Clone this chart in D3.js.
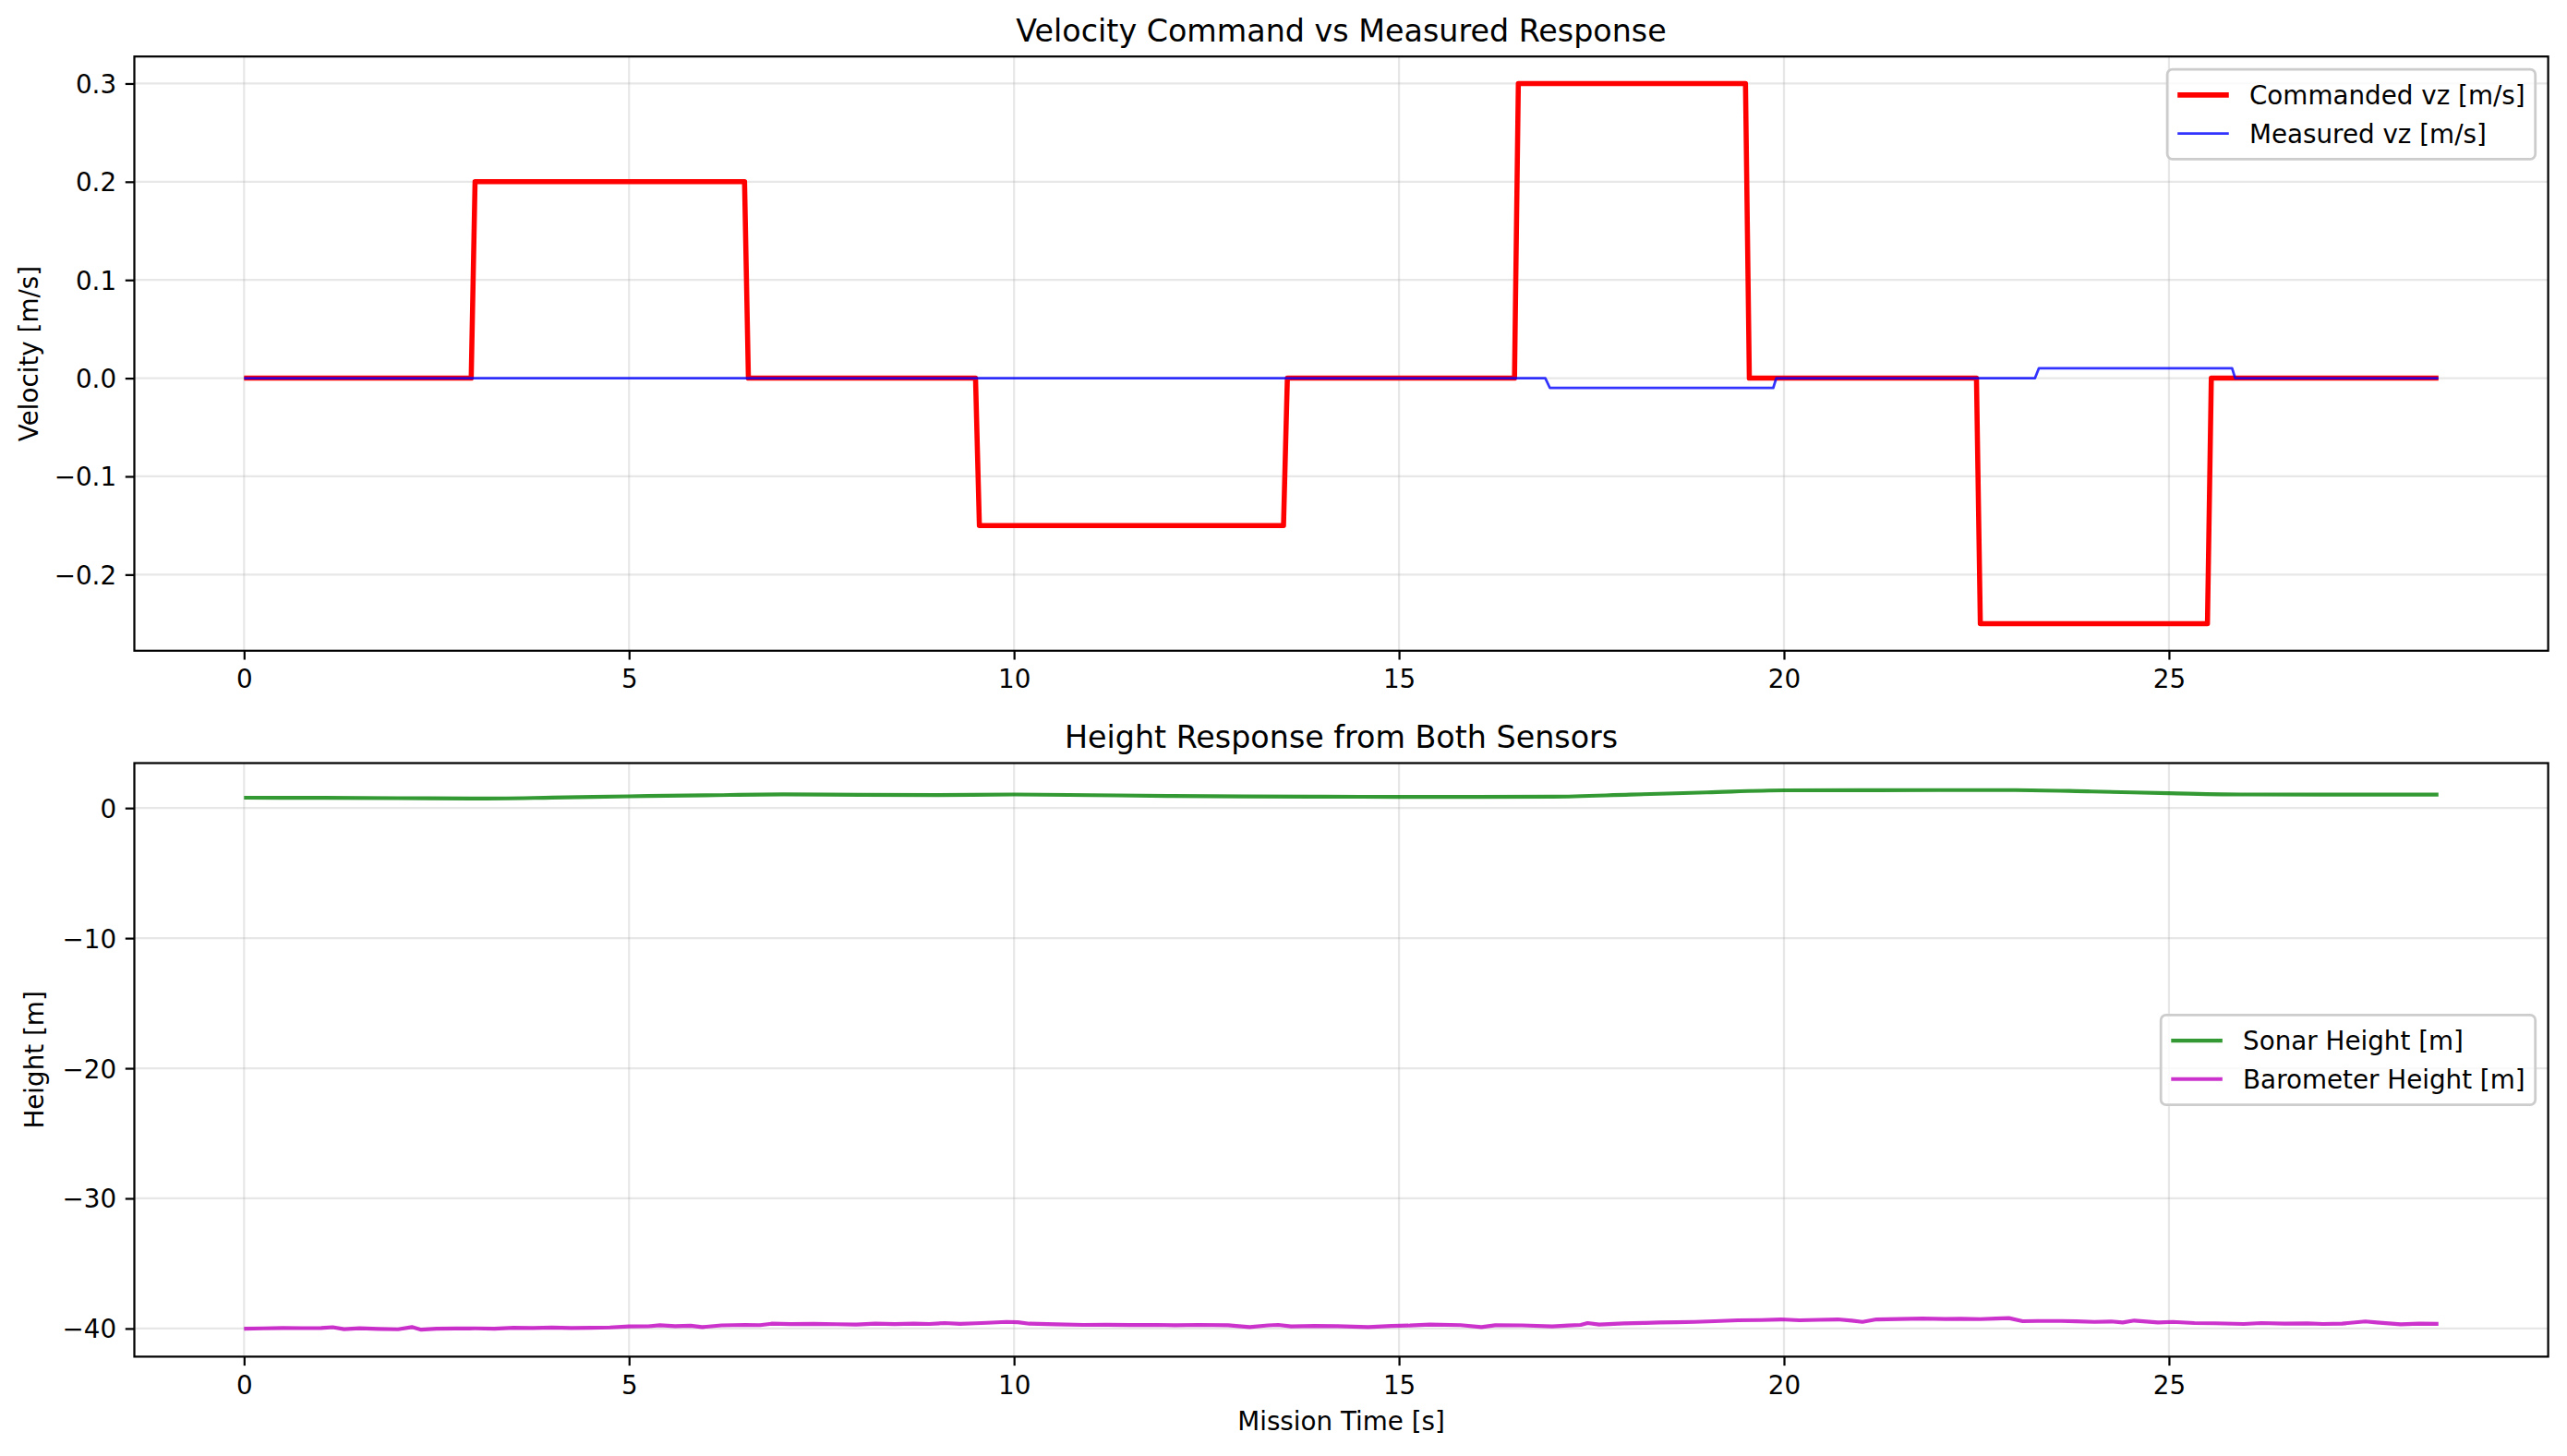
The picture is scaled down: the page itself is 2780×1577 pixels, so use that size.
<!DOCTYPE html>
<html>
<head>
<meta charset="utf-8">
<script src="https://cdn.jsdelivr.net/npm/d3@7"></script>
<style>
  html, body { margin: 0; padding: 0; background: #fff; }
  svg { display: block; font-family: "DejaVu Sans", sans-serif; }
</style>
</head>
<body>
<svg id="chart" width="2780" height="1577"></svg>
<script>
// ---------------- DATA ----------------
const cmdTimes  = [0, 2.95, 3.0, 6.5, 6.55, 9.5, 9.55, 13.5, 13.55, 16.5, 16.55, 19.5, 19.55, 22.5, 22.55, 25.5, 25.55, 28.5];
const cmdValues = [0, 0, 0.2, 0.2, 0, 0, -0.15, -0.15, 0, 0, 0.3, 0.3, 0, 0, -0.25, -0.25, 0, 0];

const measTimes  = [0, 16.9, 16.96, 19.86, 19.9, 23.26, 23.31, 25.82, 25.86, 28.5];
const measValues = [0, 0, -0.01, -0.01, 0, 0, 0.01, 0.01, 0, 0];

const sonarTimes  = [0, 1, 2, 3, 4, 5, 6, 7, 8, 9, 10, 11, 12, 13, 14, 15, 16, 17, 18, 19, 20, 21, 22, 23, 24, 25, 26, 27, 28, 28.5];
const sonarValues = [0.79, 0.78, 0.76, 0.73, 0.80, 0.90, 0.98, 1.05, 1.01, 1.00, 1.04, 0.99, 0.93, 0.89, 0.87, 0.86, 0.85, 0.87, 1.03, 1.20, 1.36, 1.37, 1.38, 1.38, 1.27, 1.14, 1.04, 1.03, 1.03, 1.03];

const baroTimes = [0.00, 0.25, 0.50, 0.75, 1.00, 1.15, 1.30, 1.50, 1.75, 2.00, 2.18, 2.30, 2.50, 2.75, 3.00, 3.25, 3.50, 3.75, 4.00, 4.25, 4.50, 4.75, 5.00, 5.25, 5.40, 5.60, 5.80, 5.95, 6.20, 6.50, 6.70, 6.85, 7.10, 7.40, 7.70, 7.95, 8.20, 8.45, 8.70, 8.90, 9.10, 9.30, 9.50, 9.65, 9.90, 10.05, 10.20, 10.55, 10.90, 11.20, 11.50, 11.85, 12.10, 12.40, 12.78, 13.06, 13.30, 13.43, 13.60, 13.90, 14.20, 14.60, 14.90, 15.14, 15.40, 15.80, 16.07, 16.25, 16.60, 16.99, 17.20, 17.36, 17.45, 17.60, 17.92, 18.20, 18.38, 18.60, 18.84, 19.10, 19.40, 19.70, 19.96, 20.20, 20.45, 20.70, 20.88, 21.02, 21.20, 21.50, 21.80, 22.10, 22.30, 22.55, 22.75, 22.92, 23.10, 23.30, 23.60, 23.80, 24.03, 24.25, 24.40, 24.55, 24.86, 25.05, 25.33, 25.60, 25.97, 26.20, 26.50, 26.80, 27.00, 27.25, 27.55, 27.70, 28.01, 28.25, 28.50];
const baroValues = [-40.01, -39.99, -39.96, -39.97, -39.96, -39.90, -40.05, -39.98, -40.03, -40.06, -39.89, -40.09, -40.02, -40.00, -39.99, -40.01, -39.95, -39.96, -39.93, -39.96, -39.94, -39.92, -39.84, -39.83, -39.75, -39.82, -39.78, -39.89, -39.76, -39.72, -39.74, -39.63, -39.66, -39.64, -39.67, -39.70, -39.63, -39.66, -39.62, -39.65, -39.58, -39.64, -39.60, -39.56, -39.49, -39.52, -39.63, -39.68, -39.72, -39.71, -39.73, -39.72, -39.75, -39.72, -39.75, -39.89, -39.76, -39.72, -39.84, -39.80, -39.82, -39.89, -39.80, -39.77, -39.70, -39.74, -39.89, -39.75, -39.76, -39.84, -39.77, -39.72, -39.58, -39.70, -39.61, -39.57, -39.54, -39.52, -39.49, -39.44, -39.37, -39.35, -39.30, -39.37, -39.33, -39.30, -39.39, -39.49, -39.30, -39.27, -39.23, -39.27, -39.25, -39.28, -39.24, -39.20, -39.44, -39.42, -39.42, -39.45, -39.49, -39.46, -39.54, -39.39, -39.54, -39.49, -39.58, -39.60, -39.65, -39.58, -39.63, -39.61, -39.65, -39.62, -39.46, -39.54, -39.68, -39.63, -39.64];

const xTicks = [0, 5, 10, 15, 20, 25];
const velTicks = [-0.2, -0.1, 0.0, 0.1, 0.2, 0.3];
const heightTicks = [-40, -30, -20, -10, 0];

const titleTop = "Velocity Command vs Measured Response";
const titleBottom = "Height Response from Both Sensors";
const yLabelTop = "Velocity [m/s]";
const yLabelBottom = "Height [m]";
const xLabel = "Mission Time [s]";
const legendTop = ["Commanded vz [m/s]", "Measured vz [m/s]"];
const legendBottom = ["Sonar Height [m]", "Barometer Height [m]"];

// ---------------- LAYOUT ----------------
const PT = 200 / 72;
const FS = 10 * PT;           // tick / label / legend font
const TFS = 12 * PT;          // title font
const left = 145.5, right = 2759.6;
const topBox = { top: 61.2, bottom: 704.8 };
const botBox = { top: 826.5, bottom: 1469.4 };
const gridColor = "#b0b0b0";

const svg = d3.select("#chart");

function withMargin(lo, hi) { const m = (hi - lo) * 0.05; return [lo - m, hi + m]; }

const allT = cmdTimes.concat(measTimes, sonarTimes, baroTimes);
const x = d3.scaleLinear().domain(withMargin(d3.min(allT), d3.max(allT))).range([left, right]);

const velAll = cmdValues.concat(measValues);
const yTop = d3.scaleLinear().domain(withMargin(d3.min(velAll), d3.max(velAll))).range([topBox.bottom, topBox.top]);
const hAll = sonarValues.concat(baroValues);
const yBot = d3.scaleLinear().domain(withMargin(d3.min(hAll), d3.max(hAll))).range([botBox.bottom, botBox.top]);

const fmtVel = d3.format(".1f");
const fmtH = d3.format("d");

function drawPanel(box, y, yTicks, yFmt, title, ylabel, ylabelX, series, legendLabels, legendPos) {
  const g = svg.append("g");
  const clipId = "clip" + Math.round(box.top);
  svg.append("clipPath").attr("id", clipId).append("rect")
    .attr("x", left).attr("y", box.top).attr("width", right - left).attr("height", box.bottom - box.top);

  // grid
  g.append("g").selectAll("line.gx").data(xTicks).join("line")
    .attr("x1", d => x(d)).attr("x2", d => x(d)).attr("y1", box.top).attr("y2", box.bottom)
    .attr("stroke", gridColor).attr("stroke-opacity", 0.3).attr("stroke-width", 0.8 * PT);
  g.append("g").selectAll("line.gy").data(yTicks).join("line")
    .attr("x1", left).attr("x2", right).attr("y1", d => y(d)).attr("y2", d => y(d))
    .attr("stroke", gridColor).attr("stroke-opacity", 0.3).attr("stroke-width", 0.8 * PT);

  // lines
  const lg = g.append("g").attr("clip-path", `url(#${clipId})`);
  series.forEach(s => {
    const pts = s.t.map((t, i) => [t, s.v[i]]);
    const line = d3.line().x(d => x(d[0])).y(d => y(d[1])).curve(s.curve || d3.curveLinear);
    lg.append("path").datum(pts).attr("d", line)
      .attr("fill", "none").attr("stroke", s.color).attr("stroke-opacity", s.alpha)
      .attr("stroke-width", s.width).attr("stroke-linejoin", "round").attr("stroke-linecap", "butt");
  });

  // axes
  const xa = g.append("g").attr("transform", `translate(0,${box.bottom})`)
    .call(d3.axisBottom(x).tickValues(xTicks).tickFormat(d3.format("d")).tickSize(3.5 * PT).tickPadding(3.5 * PT).tickSizeOuter(0));
  const ya = g.append("g").attr("transform", `translate(${left},0)`)
    .call(d3.axisLeft(y).tickValues(yTicks).tickFormat(yFmt).tickSize(3.5 * PT).tickPadding(3.5 * PT).tickSizeOuter(0));
  [xa, ya].forEach(a => {
    a.select(".domain").remove();
    a.selectAll(".tick line").attr("stroke", "#000").attr("stroke-width", 0.8 * PT);
    a.selectAll(".tick text").attr("fill", "#000").attr("font-size", FS).attr("font-family", "DejaVu Sans");
  });
  xa.selectAll(".tick text").attr("dy", "0.76em");
  ya.selectAll(".tick text").attr("dy", "0.36em");

  // spines
  g.append("rect").attr("x", left).attr("y", box.top).attr("width", right - left).attr("height", box.bottom - box.top)
    .attr("fill", "none").attr("stroke", "#000").attr("stroke-width", 0.8 * PT);

  // title
  g.append("text").attr("x", (left + right) / 2).attr("y", box.top - 6 * PT)
    .attr("text-anchor", "middle").attr("font-size", TFS).attr("fill", "#000").text(title);

  // y label
  const cy = (box.top + box.bottom) / 2;
  g.append("text").attr("transform", `translate(${ylabelX},${cy}) rotate(-90)`)
    .attr("text-anchor", "middle").attr("font-size", FS).attr("fill", "#000").text(ylabel);

  // legend
  const lgG = g.append("g");
  const pad = 0.4 * FS, hl = 2 * FS, htp = 0.8 * FS, rowH = FS * 1.5;
  const frame = lgG.append("rect");
  const texts = legendLabels.map((lab, i) => lgG.append("text").attr("font-size", FS).attr("fill", "#000").text(lab));
  const tw = d3.max(texts, t => t.node().getComputedTextLength());
  const w = pad * 2 + hl + htp + tw;
  const h = pad * 2 + rowH * legendLabels.length - 0.5 * FS + 0.2 * FS;
  const bx = right - 0.5 * FS - w;
  const by = legendPos === "upper" ? box.top + 0.5 * FS : (box.top + box.bottom) / 2 - h / 2;
  frame.attr("x", bx).attr("y", by).attr("width", w).attr("height", h)
    .attr("rx", 0.2 * FS).attr("ry", 0.2 * FS)
    .attr("fill", "#fff").attr("fill-opacity", 0.8).attr("stroke", "#cccccc").attr("stroke-width", 1.0 * PT);
  legendLabels.forEach((lab, i) => {
    const ry = by + pad + 0.6 * FS + i * rowH;
    lgG.append("line").attr("x1", bx + pad).attr("x2", bx + pad + hl).attr("y1", ry).attr("y2", ry)
      .attr("stroke", series[i].color).attr("stroke-opacity", series[i].alpha).attr("stroke-width", series[i].width);
    texts[i].attr("x", bx + pad + hl + htp).attr("y", ry).attr("dy", "0.36em");
    texts[i].raise();
  });
}

drawPanel(topBox, yTop, velTicks, fmtVel, titleTop, yLabelTop, 41,
  [
    { t: cmdTimes, v: cmdValues, color: "#ff0000", alpha: 1, width: 2 * PT },
    { t: measTimes, v: measValues, color: "#0000ff", alpha: 0.8, width: 1 * PT }
  ], legendTop, "upper");

drawPanel(botBox, yBot, heightTicks, fmtH, titleBottom, yLabelBottom, 47,
  [
    { t: sonarTimes, v: sonarValues, color: "#008000", alpha: 0.8, width: 1.5 * PT, curve: d3.curveMonotoneX },
    { t: baroTimes, v: baroValues, color: "#bf00bf", alpha: 0.8, width: 1.5 * PT }
  ], legendBottom, "center");

// x label
svg.append("text").attr("x", (left + right) / 2).attr("y", 1549)
  .attr("text-anchor", "middle").attr("font-size", FS).attr("fill", "#000").text(xLabel);
</script>
</body>
</html>
